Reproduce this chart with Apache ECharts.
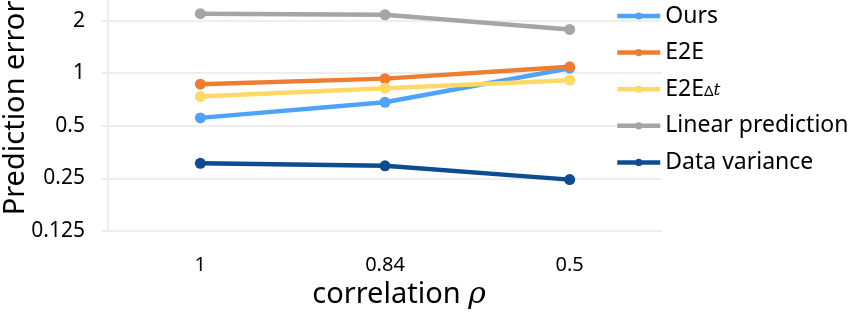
<!DOCTYPE html>
<html><head><meta charset="utf-8">
<script src="https://cdn.jsdelivr.net/npm/echarts@6/dist/echarts.min.js"></script>
<style>html,body{margin:0;padding:0;background:#fff}#c{width:854px;height:314px}</style>
</head><body><div id="c"></div>
<script>
const categories = ['1', '0.84', '0.5'];
const seriesNames = ['Ours', 'E2E', 'E2EΔt', 'Linear prediction', 'Data variance'];
const ours = [0.555, 0.682, 1.068];
const e2e = [0.865, 0.931, 1.087];
const e2eDt = [0.735, 0.821, 0.912];
const linearPrediction = [2.19, 2.16, 1.78];
const dataVariance = [0.305, 0.295, 0.246];
const colors = ['#4DA3F8', '#ED7D31', '#FFD966', '#A5A5A5', '#0E4C92'];
const yMin = 0.125, yMax = 4;

const FONT = '"Noto Sans", sans-serif';
const chart = echarts.init(document.getElementById('c'));
const allData = [ours, e2e, e2eDt, linearPrediction, dataVariance];
chart.setOption({
  animation: false,
  grid: { left: 108, right: 192, top: -32, bottom: 83, containLabel: false, outerBoundsMode: 'none' },
  legend: {
    orient: 'vertical', left: 610, top: -1,
    itemWidth: 43, itemHeight: 9, itemGap: 12.6,
    lineStyle: { width: 4.5 },
    data: seriesNames,
    formatter: function (n) { return n === 'E2EΔt' ? '{a|E2E}{b|Δ}{c|t}' : '{a|' + n + '}'; },
    textStyle: {
      color: '#000', fontFamily: FONT, fontSize: 23, lineHeight: 24,
      rich: {
        a: { fontFamily: FONT, fontSize: 23, color: '#000', lineHeight: 24 },
        b: { fontFamily: FONT, fontSize: 15, color: '#000', lineHeight: 24, verticalAlign: 'bottom', padding: [0,0,2,0] },
        c: { fontFamily: '"DejaVu Serif", serif', fontStyle: 'italic', fontSize: 17, color: '#000', lineHeight: 24, verticalAlign: 'bottom', padding: [0,0,2,0] }
      }
    }
  },
  xAxis: {
    type: 'category', data: categories, boundaryGap: true,
    axisLine: { show: true, lineStyle: { color: '#EEEEEE', width: 2 } },
    axisTick: { show: false },
    axisLabel: { color: '#000', fontFamily: FONT, fontSize: 20, margin: 24 },
    name: 'correlation {r|ρ}', nameLocation: 'middle', nameGap: 47,
    nameTextStyle: {
      color: '#000', fontFamily: FONT, fontSize: 29, padding: [0, 0, 0, 28],
      rich: { r: { fontFamily: '"DejaVu Serif", serif', fontStyle: 'italic', fontSize: 30, color: '#000' } }
    }
  },
  yAxis: {
    type: 'log', logBase: 2, min: yMin, max: yMax, splitNumber: 5,
    axisLine: { show: true, lineStyle: { color: '#EEEEEE', width: 2 } },
    axisTick: { show: true, inside: false, length: 7, lineStyle: { color: '#EEEEEE', width: 2 } },
    splitLine: { show: true, lineStyle: { color: '#EEEEEE', width: 2 } },
    axisLabel: { color: '#000', fontFamily: FONT, fontSize: 21, margin: 23,
      formatter: function (v) { return String(+v.toPrecision(6)); } }
  },
  graphic: [{
    type: 'text', x: 16, y: 108, rotation: Math.PI / 2,
    style: { text: 'Prediction error', fill: '#000', font: '29px "Noto Sans", sans-serif', textAlign: 'center', textVerticalAlign: 'middle' }
  }],
  series: seriesNames.map(function (n, i) {
    return {
      name: n, type: 'line', data: allData[i],
      symbol: 'circle', symbolSize: 11, showSymbol: true,
      color: colors[i],
      lineStyle: { width: 4.5, color: colors[i] },
      itemStyle: { color: colors[i] }
    };
  })
});
</script></body></html>
